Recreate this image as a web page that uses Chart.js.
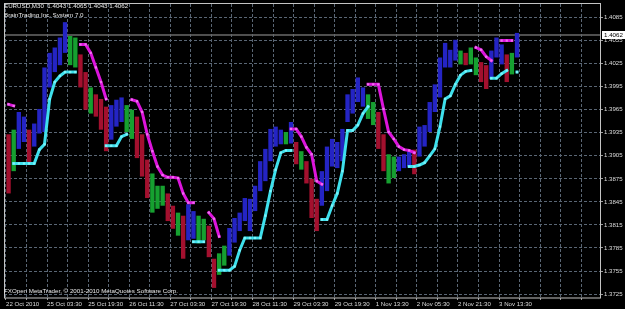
<!DOCTYPE html>
<html>
<head>
<meta charset="utf-8">
<script src="https://cdn.jsdelivr.net/npm/chart.js@4.4.0/dist/chart.umd.min.js"></script>
<style>
  html, body { margin: 0; padding: 0; background: #000; }
  #caixa { width: 625px; height: 309px; }
</style>
</head>
<body>
<div id="caixa"><canvas id="grafico" width="625" height="309"></canvas></div>
<script>
// EURUSD M30 - cada posicao junta 4 barras de 30 min
var maximas = [
  1.3933, 1.3939, 1.3962, 1.3956, 1.3939, 1.3947, 1.3966, 1.4020, 1.4039, 1.4046,
  1.4059, 1.4079, 1.4061, 1.4059, 1.4037, 1.4014, 1.3994, 1.3985, 1.3979, 1.3969,
  1.3971, 1.3978, 1.3981, 1.3971, 1.3965, 1.3956, 1.3933, 1.3900, 1.3882, 1.3866,
  1.3866, 1.3856, 1.3840, 1.3831, 1.3827, 1.3842, 1.3833, 1.3827, 1.3823, 1.3814,
  1.3771, 1.3778, 1.3788, 1.3811, 1.3824, 1.3831, 1.3850, 1.3849, 1.3866, 1.3898,
  1.3914, 1.3940, 1.3943, 1.3939, 1.3936, 1.3949, 1.3923, 1.3911, 1.3898, 1.3875,
  1.3849, 1.3885, 1.3917, 1.3927, 1.3923, 1.3940, 1.3985, 1.3992, 1.4007, 1.3994,
  1.3985, 1.3975, 1.3962, 1.3933, 1.3907, 1.3904, 1.3904, 1.3907, 1.3911, 1.3913,
  1.3943, 1.3945, 1.3975, 1.3998, 1.4033, 1.4052, 1.4043, 1.4056, 1.4042, 1.4039,
  1.4046, 1.4033, 1.4027, 1.4023, 1.4042, 1.4059, 1.4050, 1.4037, 1.4039, 1.4065
];
var minimas = [
  1.3856, 1.3885, 1.3914, 1.3923, 1.3894, 1.3917, 1.3934, 1.3936, 1.3994, 1.4014,
  1.4023, 1.4039, 1.4023, 1.4020, 1.3994, 1.3965, 1.3960, 1.3956, 1.3939, 1.3911,
  1.3926, 1.3943, 1.3949, 1.3936, 1.3927, 1.3902, 1.3878, 1.3850, 1.3831, 1.3836,
  1.3840, 1.3820, 1.3810, 1.3801, 1.3771, 1.3795, 1.3797, 1.3791, 1.3795, 1.3773,
  1.3733, 1.3750, 1.3762, 1.3775, 1.3792, 1.3807, 1.3820, 1.3807, 1.3833, 1.3859,
  1.3872, 1.3898, 1.3917, 1.3920, 1.3920, 1.3921, 1.3894, 1.3887, 1.3869, 1.3824,
  1.3807, 1.3840, 1.3859, 1.3891, 1.3889, 1.3898, 1.3949, 1.3960, 1.3975, 1.3969,
  1.3953, 1.3945, 1.3914, 1.3885, 1.3869, 1.3876, 1.3885, 1.3889, 1.3891, 1.3881,
  1.3904, 1.3917, 1.3936, 1.3962, 1.3981, 1.4020, 1.4020, 1.4029, 1.4024, 1.4023,
  1.4024, 1.4010, 1.4001, 1.3992, 1.4005, 1.4033, 1.4024, 1.4001, 1.4011, 1.4033
];
// b = alta (azul), r = baixa (vermelho), g = indefinido (verde)
var tendencia = ('rgbbrbbbbb' + 'bbggrrgrrr' + 'bbbggrrrgg' + 'grrgrbbggr' + 'rggbbbbbbb' +
                 'bbbbgbrgrr' + 'rbbbbbbbbb' + 'ggrrggbbbr' + 'bbbbbbbbgr' + 'ggrrbbbrgb').split('');
var suporte = [
  null, 1.3895, 1.3895, 1.3895, 1.3895, 1.3895, 1.3913, 1.3920, 1.3979, 1.4001,
  1.4009, 1.4014, 1.4014, 1.4014, null, null, null, null, null, 1.3918,
  1.3918, 1.3918, 1.3930, 1.3933, null, null, null, null, null, null,
  null, null, null, null, null, null, 1.3793, 1.3793, 1.3793, null,
  null, 1.3756, 1.3756, 1.3756, 1.3761, 1.3782, 1.3798, 1.3798, 1.3798, 1.3798,
  1.3827, 1.3859, 1.3887, 1.3909, 1.3912, 1.3912, null, null, null, null,
  null, 1.3822, 1.3822, 1.3840, 1.3856, 1.3885, 1.3938, 1.3938, 1.3945, 1.3960,
  1.3969, null, null, null, null, null, null, null, 1.3891, 1.3891,
  1.3893, 1.3896, 1.3905, 1.3914, 1.3943, 1.3979, 1.3983, 1.3998, 1.4010, 1.4015,
  1.4016, null, null, null, 1.4006, 1.4006, 1.4012, 1.4016, null, 1.4014
];
var resistencia = [
  1.3972, 1.3970, null, null, null, null, null, null, null, null,
  null, null, null, null, 1.4050, 1.4050, 1.4039, 1.4020, 1.4001, 1.3979,
  null, null, null, null, 1.3978, 1.3976, 1.3962, 1.3933, 1.3911, 1.3891,
  1.3880, 1.3877, 1.3877, 1.3876, 1.3856, 1.3844, 1.3844, null, null, 1.3831,
  1.3823, 1.3800, null, null, null, null, null, null, null, null,
  null, null, null, null, null, 1.3940, 1.3940, 1.3930, 1.3916, 1.3907,
  1.3872, 1.3868, null, null, null, null, null, null, null, null,
  1.3998, 1.3998, 1.3998, 1.3966, 1.3936, 1.3927, 1.3917, 1.3913, 1.3912, 1.3909,
  null, null, null, null, null, null, null, null, null, null,
  null, 1.4046, 1.4043, 1.4034, 1.4029, null, 1.4055, 1.4055, 1.4055, null
];
var rotulosX = ['22 Oct 2010', '25 Oct 03:30', '25 Oct 19:30', '26 Oct 11:30', '27 Oct 03:30',
                '27 Oct 19:30', '28 Oct 11:30', '29 Oct 03:30', '29 Oct 19:30', '1 Nov 13:30',
                '2 Nov 05:30', '2 Nov 21:30', '3 Nov 13:30'];
var rotulosY = [1.4085, 1.4055, 1.4025, 1.3995, 1.3965, 1.3935, 1.3905, 1.3875,
                1.3845, 1.3815, 1.3785, 1.3755, 1.3725];
var ultimoPreco = 1.4062;
var cabecalho = ['EURUSD,M30  1.4043 1.4065 1.4043 1.4062', 'BrainTrading Inc. System 7.0'];
var rodape = 'FXOpen MetaTrader, \u00a9 2001-2010 MetaQuotes Software Corp.';

// posicao no tempo, em barras M30 contadas a partir do inicio da janela
var barras = maximas.map(function (v, i) { return i * 4 + 2; });
var linhasX = [];
for (var t = 0; t <= 448; t += 16) linhasX.push(t);

var corTendencia = { b: '#2424c4', r: '#a3102e', g: '#16a030' };
var fonte = '"Liberation Sans", Arial, sans-serif';

var moldura = {
  id: 'moldura',
  beforeDatasetsDraw: function (chart) {
    var ctx = chart.ctx, a = chart.chartArea;
    var y = Math.round(chart.scales.y.getPixelForValue(ultimoPreco));
    ctx.save();
    ctx.strokeStyle = '#6a6a6a';
    ctx.lineWidth = 1.5;
    ctx.beginPath();
    ctx.moveTo(a.left, y);
    ctx.lineTo(a.right, y);
    ctx.stroke();
    ctx.restore();
  },
  afterDraw: function (chart) {
    var ctx = chart.ctx, a = chart.chartArea;
    ctx.save();
    ctx.strokeStyle = '#c4c4c4';
    ctx.lineWidth = 1;
    ctx.strokeRect(a.left + 0.5, a.top - 0.5, a.right - a.left - 1, a.bottom - a.top + 0.5);

    // caixa do ultimo preco no eixo
    var y = Math.round(chart.scales.y.getPixelForValue(ultimoPreco));
    ctx.fillStyle = '#ffffff';
    ctx.fillRect(a.right + 1, y - 4, 23, 8);
    ctx.fillStyle = '#000000';
    ctx.font = '6.2px ' + fonte;
    ctx.textBaseline = 'middle';
    ctx.fillText(ultimoPreco.toFixed(4), a.right + 3, y + 0.5);

    ctx.fillStyle = '#e8e8e8';
    ctx.textBaseline = 'alphabetic';
    ctx.fillText(cabecalho[0], 4, 8);
    ctx.fillText(cabecalho[1], 4, 17);
    ctx.fillText(rodape, 4, 293);
    ctx.restore();
  }
};

var ctx = document.getElementById('grafico');
var grafico = new Chart(ctx, {
  type: 'bar',
  data: {
    datasets: [{
      type: 'line',
      label: 'suporte',
      data: suporte.map(function (v, i) { return { x: barras[i], y: v }; }),
      borderColor: '#3ee0ec',
      backgroundColor: '#7ff4fa',
      borderWidth: 3,
      borderCapStyle: 'square',
      pointRadius: 1.6,
      pointBorderWidth: 0,
      pointStyle: 'rect',
      spanGaps: false,
      order: 0
    }, {
      type: 'line',
      label: 'resistencia',
      data: resistencia.map(function (v, i) { return { x: barras[i], y: v }; }),
      borderColor: '#dc14dc',
      backgroundColor: '#f070f0',
      borderWidth: 3,
      borderCapStyle: 'square',
      pointRadius: 1.6,
      pointBorderWidth: 0,
      pointStyle: 'rect',
      spanGaps: false,
      order: 1
    }, {
      type: 'bar',
      label: 'EURUSD',
      data: barras.map(function (x, i) { return { x: x, y: [minimas[i], maximas[i]] }; }),
      backgroundColor: tendencia.map(function (c) { return corTendencia[c]; }),
      barPercentage: 1,
      categoryPercentage: 0.85,
      order: 2
    }]
  },
  options: {
    responsive: false,
    animation: false,
    devicePixelRatio: 1,
    layout: { padding: { top: 1, left: 0, right: 0, bottom: 0 } },
    plugins: {
      legend: { display: false },
      tooltip: { enabled: false }
    },
    scales: {
      x: {
        type: 'linear',
        offset: false,
        min: -1.55,
        max: 463.4,
        afterBuildTicks: function (axis) {
          axis.ticks = linhasX.map(function (v) { return { value: v }; });
        },
        afterFit: function (axis) {
          axis.height = 11;
          axis.paddingLeft = 0;
          axis.paddingRight = 0;
        },
        ticks: {
          autoSkip: false,
          maxRotation: 0,
          align: 'start',
          padding: 1,
          color: '#dcdcdc',
          font: { family: fonte, size: 6.1 },
          callback: function (v) { return v % 32 === 0 ? (rotulosX[v / 32] || '') : ''; }
        },
        grid: { offset: false, color: '#5a6674', tickLength: 2, tickColor: '#9a9a9a' },
        border: { display: false, dash: [3, 2] }
      },
      y: {
        position: 'right',
        min: 1.371985,
        max: 1.410265,
        afterBuildTicks: function (axis) {
          axis.ticks = rotulosY.map(function (v) { return { value: v }; });
        },
        afterFit: function (axis) {
          axis.width = 24;
          axis.paddingTop = 0;
          axis.paddingBottom = 0;
        },
        ticks: {
          padding: 1,
          color: '#dcdcdc',
          font: { family: fonte, size: 6.1 },
          callback: function (v) { return v.toFixed(4); }
        },
        grid: { color: '#5a6674', tickLength: 2, tickColor: '#9a9a9a' },
        border: { display: false, dash: [3, 2] }
      }
    }
  },
  plugins: [moldura]
});
</script>
</body>
</html>
